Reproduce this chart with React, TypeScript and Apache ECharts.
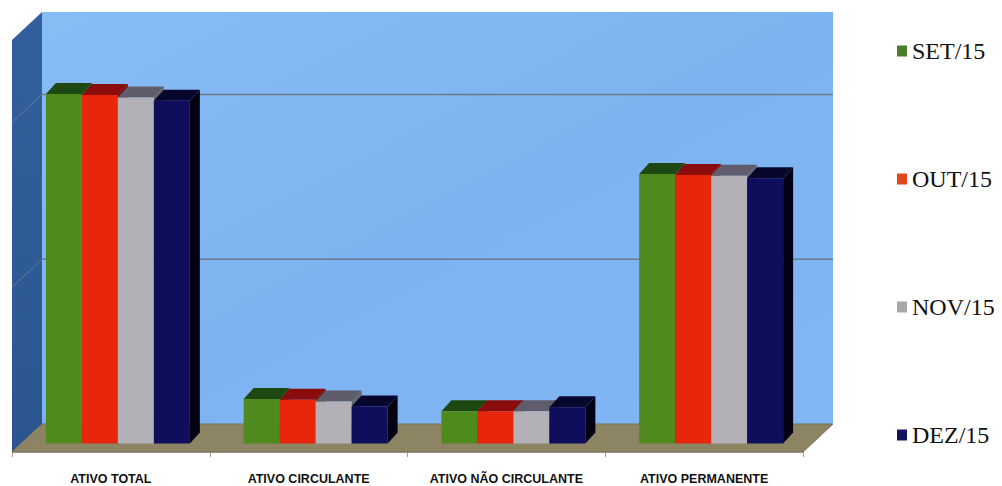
import React, { useEffect, useRef } from "react";
import * as echarts from "echarts";

// Categories and monthly values (same unit as the hidden value axis)
const categories = ["ATIVO TOTAL", "ATIVO CIRCULANTE", "ATIVO NÃO CIRCULANTE", "ATIVO PERMANENTE"];
const months = ["SET/15", "OUT/15", "NOV/15", "DEZ/15"];
const set15 = [212, 27, 19.5, 163.5];
const out15 = [211.5, 26.5, 19.5, 163];
const nov15 = [210, 25.5, 19.5, 162.5];
const dez15 = [208, 22.5, 22, 161];
const seriesValues = [set15, out15, nov15, dez15];
const gridValues = [100, 200];

// Colours of the legend swatches and of the three visible faces of each bar
const legendColors = ["#4a7f2a", "#e0481a", "#a8a8a8", "#14145e"];
const faceColors = [
  { front: "#4f8a1e", top: "#1d4812", side: "#244c10" },
  { front: "#e8260c", top: "#8a0c0c", side: "#700c08" },
  { front: "#b3b1b7", top: "#5f5d6b", side: "#66646e" },
  { front: "#0e0e5c", top: "#07072e", side: "#020214" },
];

// Oblique projection offsets
const WALL_DX = 30;
const WALL_DY = 28;
const FRONT_DX = 7;
const FRONT_DY = 8.5;
const DEPTH_DX = 10;
const DEPTH_DY = 11;
const BAR_RATIO = 0.182;

function wallRender(params: any, api: any) {
  const cs = params.coordSys;
  const gx = cs.x;
  const gy = cs.y;
  const gw = cs.width;
  const gh = cs.height;
  const base = gy + gh;
  const children: any[] = [];
  // back wall
  children.push({
    type: "rect",
    shape: { x: gx + WALL_DX, y: gy - WALL_DY, width: gw, height: gh },
    style: {
      fill: new echarts.graphic.LinearGradient(0, 0, 1, 1, [
        { offset: 0, color: "#88bcf5" },
        { offset: 0.5, color: "#7db3f0" },
        { offset: 1, color: "#80b6f3" },
      ]),
    },
  });
  // side wall
  children.push({
    type: "polygon",
    shape: {
      points: [
        [gx, gy],
        [gx + WALL_DX, gy - WALL_DY],
        [gx + WALL_DX, base - WALL_DY],
        [gx, base],
      ],
    },
    style: {
      fill: new echarts.graphic.LinearGradient(0, 0, 0, 1, [
        { offset: 0, color: "#33609c" },
        { offset: 1, color: "#2a5590" },
      ]),
    },
  });
  // floor
  children.push({
    type: "polygon",
    shape: {
      points: [
        [gx, base],
        [gx + WALL_DX, base - WALL_DY],
        [gx + gw + WALL_DX, base - WALL_DY],
        [gx + gw, base],
      ],
    },
    style: { fill: "#8d8464", stroke: "#7a7156", lineWidth: 1 },
  });
  // gridlines across the back wall and the side wall
  gridValues.forEach((v) => {
    const y = api.coord([0, v])[1];
    children.push({
      type: "line",
      shape: { x1: gx + WALL_DX, y1: y - WALL_DY, x2: gx + gw + WALL_DX, y2: y - WALL_DY },
      style: { stroke: "#6c7a8c", lineWidth: 1.5 },
    });
    children.push({
      type: "line",
      shape: { x1: gx, y1: y, x2: gx + WALL_DX, y2: y - WALL_DY },
      style: { stroke: "#5d7ea6", lineWidth: 1 },
    });
  });
  return { type: "group", children };
}

function makeBarRender(si: number) {
  const c = faceColors[si];
  return (params: any, api: any) => {
    const ci = api.value(0);
    const v = api.value(1);
    const b = api.coord([ci, 0]);
    const t = api.coord([ci, v]);
    const band = api.size([1, 0])[0];
    const w = band * BAR_RATIO;
    const x = b[0] - 2 * w + si * w + FRONT_DX;
    const yb = b[1] - FRONT_DY;
    const yt = t[1] - FRONT_DY;
    return {
      type: "group",
      children: [
        {
          type: "polygon",
          shape: {
            points: [
              [x + w, yt],
              [x + w + DEPTH_DX, yt - DEPTH_DY],
              [x + w + DEPTH_DX, yb - DEPTH_DY],
              [x + w, yb],
            ],
          },
          style: { fill: c.side },
        },
        {
          type: "polygon",
          shape: {
            points: [
              [x, yt],
              [x + DEPTH_DX, yt - DEPTH_DY],
              [x + w + DEPTH_DX, yt - DEPTH_DY],
              [x + w, yt],
            ],
          },
          style: { fill: c.top },
        },
        {
          type: "rect",
          shape: { x, y: yt, width: w, height: yb - yt },
          style: { fill: c.front },
        },
      ],
    };
  };
}

export default function App() {
  const ref = useRef<HTMLDivElement>(null);
  useEffect(() => {
    if (!ref.current) return;
    const chart = echarts.init(ref.current, null, { renderer: "svg" });
    chart.setOption({
      animation: false,
      backgroundColor: "#ffffff",
      grid: { left: 12, top: 40, width: 791, height: 412 },
      legend: {
        data: months,
        orient: "vertical",
        left: 897,
        top: 28,
        padding: 0,
        itemWidth: 10,
        itemHeight: 11,
        itemGap: 82,
        icon: "rect",
        textStyle: {
          fontFamily: "Liberation Serif",
          fontSize: 24,
          color: "#111111",
          lineHeight: 30,
          padding: [16, 0, 0, 0],
        },
      },
      xAxis: {
        type: "category",
        data: categories,
        axisLine: { show: true, lineStyle: { color: "#b5b5b5", width: 1 } },
        axisTick: { show: true, interval: 0, length: 5, lineStyle: { color: "#a0a0a0" } },
        axisLabel: {
          interval: 0,
          margin: 20,
          fontFamily: "Liberation Sans",
          fontWeight: "bold",
          fontSize: 12.5,
          color: "#111111",
        },
        splitLine: { show: false },
      },
      yAxis: {
        type: "value",
        min: 0,
        max: 250,
        interval: 100,
        show: false,
        splitLine: { show: false },
      },
      series: [
        {
          type: "custom",
          name: "walls",
          silent: true,
          renderItem: wallRender,
          data: [[0, 0]],
          encode: { x: 0, y: 1 },
          z: 1,
        },
        ...months.map((m, si) => ({
          type: "custom",
          name: m,
          renderItem: makeBarRender(si),
          data: seriesValues[si].map((v, i) => [i, v]),
          encode: { x: 0, y: 1 },
          itemStyle: { color: legendColors[si] },
          z: 2 + si,
        })),
      ],
    });
    return () => chart.dispose();
  }, []);
  return (
    <div
      ref={ref}
      style={{ position: "fixed", left: 0, top: 0, width: 1002, height: 486 }}
    />
  );
}
